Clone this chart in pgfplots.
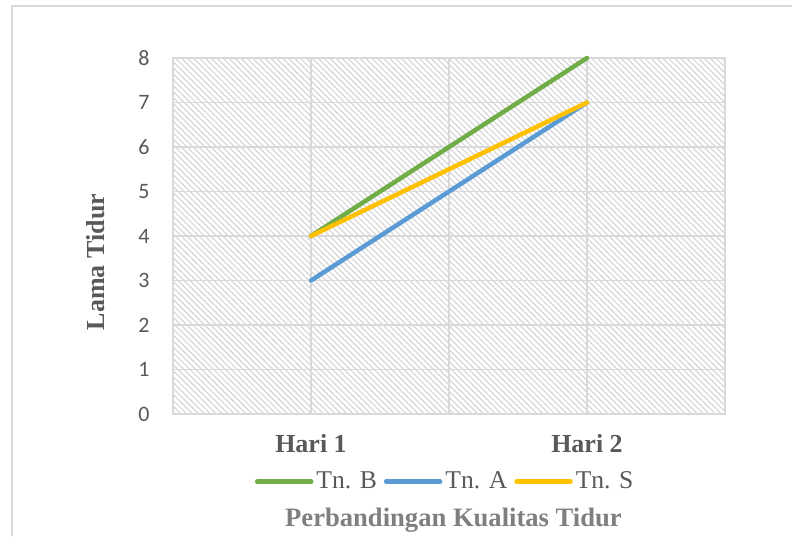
\documentclass[border=0pt]{standalone}
\usepackage{fontspec}
\setmainfont{Liberation Serif}
\newfontfamily\calibri{Carlito}
\usepackage{pgfplots}
\pgfplotsset{compat=1.18}
\usetikzlibrary{patterns.meta}
\definecolor{tgreen}{HTML}{70AD47}
\definecolor{tblue}{HTML}{5B9BD5}
\definecolor{tyellow}{HTML}{FFC000}
\definecolor{txt}{HTML}{595959}
\definecolor{ttl}{HTML}{7F7F7F}
\definecolor{gridc}{HTML}{D9D9D9}
\definecolor{hatch}{HTML}{D6D6D6}
\begin{document}
\begin{tikzpicture}
\useasboundingbox (0,0) rectangle (396pt,268pt);
\draw[gridc, line width=1pt] (6pt,0) -- (6pt,265pt) -- (396pt,265pt);
\begin{axis}[
 at={(86.5pt,61pt)}, anchor=south west,
 scale only axis, width=276pt, height=178pt,
 xmin=0.5, xmax=2.5, ymin=0, ymax=8,
 xtick={1,2}, xticklabels={Hari 1, Hari 2},
 minor xtick={1.5},
 ytick={0,...,8},
 major tick length=0pt, minor tick length=0pt,
 grid=both,
 major grid style={gridc, line width=0.75pt},
 minor grid style={gridc, line width=0.75pt},
 axis line style={gridc, line width=0.75pt},
 axis background/.style={pattern={Lines[angle=-45,distance=2.1pt,line width=0.6pt]}, pattern color=hatch},
 /pgf/number format/assume math mode=true,
 yticklabel style={font=\calibri\fontsize{11pt}{13pt}\selectfont, text=txt, anchor=east, inner sep=0pt, xshift=-11.5pt},
 xticklabel style={font=\bfseries\fontsize{13pt}{15pt}\selectfont, text=txt, anchor=base, inner sep=0pt, yshift=-19pt},
 ylabel={Lama Tidur},
 ylabel style={at={(rel axis cs:-0.141,0.427)}, anchor=center, font=\bfseries\fontsize{13pt}{15pt}\selectfont, text=txt},
 legend columns=-1,
 legend style={at={(rel axis cs:0.494,-0.190)}, anchor=center, draw=none, fill=none, font=\fontsize{12.8pt}{14pt}\selectfont, text=txt, /tikz/every even column/.append style={column sep=2pt}, inner sep=0pt, nodes={inner sep=1.5pt}},
 legend image code/.code={\draw[#1] (0pt,0pt) -- (27pt,0pt);},
 every axis plot/.append style={line width=2.25pt, line cap=round},
 clip=false,
]
\addplot[tgreen] coordinates {(1,4) (2,8)};
\addlegendentry{Tn. B}
\addplot[tblue] coordinates {(1,3) (2,7)};
\addlegendentry{Tn. A}
\addplot[tyellow] coordinates {(1,4) (2,7)};
\addlegendentry{Tn. S}
\end{axis}
\node[anchor=base, font=\bfseries\fontsize{13.3pt}{15pt}\selectfont, text=ttl] at (226.75pt,4.8pt) {Perbandingan Kualitas Tidur};
\end{tikzpicture}
\end{document}
